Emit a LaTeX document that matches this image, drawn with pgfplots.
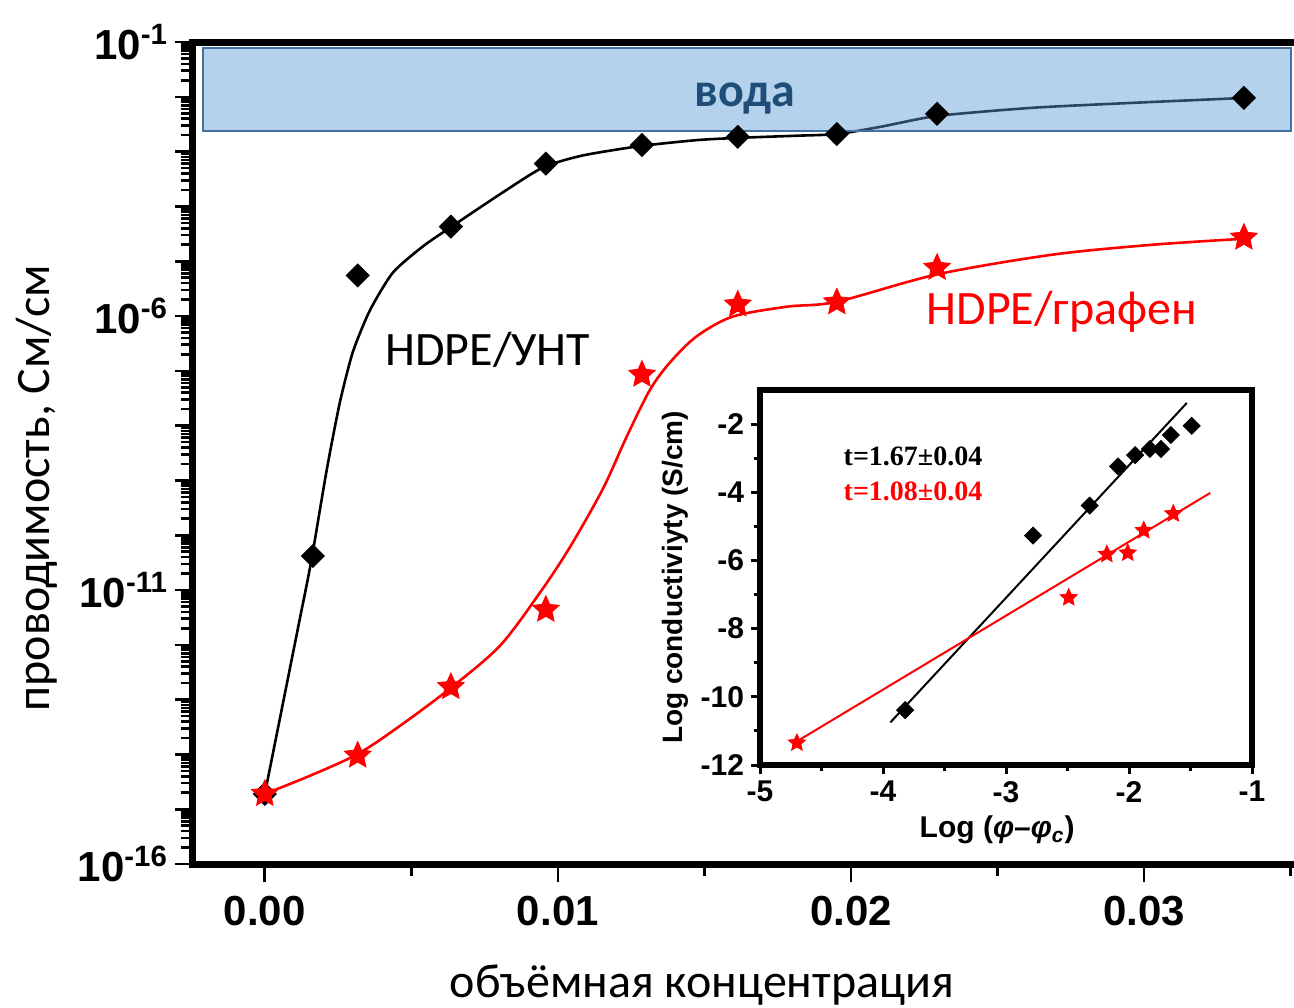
\documentclass[border=0pt]{standalone}
\usepackage{fontspec}
\setmainfont{Carlito}
\newfontfamily\arialfont{Liberation Sans}
\newfontfamily\timesfont{Liberation Serif}
\usepackage{pgfplots}
\pgfplotsset{compat=1.18}
\definecolor{boxfill}{RGB}{91,155,213}
\definecolor{boxedge}{RGB}{65,113,156}
\definecolor{waterblue}{RGB}{31,78,121}

\def\minorlist{}
\foreach \e in {-16,...,-2}{\foreach \m in {2,...,9}{\xdef\minorlist{\minorlist\ifx\minorlist\empty\else,\fi\m e\e}}}

\pgfdeclareplotmark{fstar}{%
  \pgfpathmoveto{\pgfpointpolar{90}{\pgfplotmarksize}}%
  \pgfpathlineto{\pgfpointpolar{126}{0.47\pgfplotmarksize}}%
  \pgfpathlineto{\pgfpointpolar{162}{\pgfplotmarksize}}%
  \pgfpathlineto{\pgfpointpolar{198}{0.47\pgfplotmarksize}}%
  \pgfpathlineto{\pgfpointpolar{234}{\pgfplotmarksize}}%
  \pgfpathlineto{\pgfpointpolar{270}{0.47\pgfplotmarksize}}%
  \pgfpathlineto{\pgfpointpolar{306}{\pgfplotmarksize}}%
  \pgfpathlineto{\pgfpointpolar{342}{0.47\pgfplotmarksize}}%
  \pgfpathlineto{\pgfpointpolar{18}{\pgfplotmarksize}}%
  \pgfpathlineto{\pgfpointpolar{54}{0.47\pgfplotmarksize}}%
  \pgfpathclose\pgfusepathqfillstroke}

\begin{document}
\begin{tikzpicture}
\begin{axis}[
  name=main, at={(0,0)}, anchor=south west,
  scale only axis, width=548.75pt, height=411pt,
  xmin=-0.00245, xmax=0.035,
  ymode=log, ymin=1e-16, ymax=1e-1,
  axis line style={draw=none},
  tick align=outside,
  xtick={0,0.01,0.02,0.03}, xticklabels={0.00,0.01,0.02,0.03},
  minor xtick={0.005,0.015,0.025,0.035},
  xtick pos=left, ytick pos=left,
  ytick={1e-16,1e-15,1e-14,1e-13,1e-12,1e-11,1e-10,1e-9,1e-8,1e-7,1e-6,1e-5,1e-4,1e-3,1e-2,1e-1},
  yticklabels={10\textsuperscript{-16},{},{},{},{},10\textsuperscript{-11},{},{},{},{},10\textsuperscript{-6},{},{},{},{},10\textsuperscript{-1}},
  minor ytick/.expand once=\minorlist,
  major tick length=9pt, minor tick length=6pt,
  major tick style={line width=1.3pt, black},
  minor tick style={line width=1.3pt, black},
  tick label style={font=\arialfont\bfseries\fontsize{21}{24}\selectfont},
  xticklabel style={yshift=-3.5pt},
  scaled x ticks=false,
  clip=false,
]
% HDPE/CNT fit curve
\addplot[black, line width=1.3pt] coordinates {(0,1.905e-15)(0.001468,1.585e-11)};
\addplot[black, line width=1.3pt, smooth, tension=0.4] coordinates {
(0.001468,1.585e-11)(0.001638,4.90e-11)(0.002116,1.585e-9)(0.00256,2.63e-8)(0.003003,2.19e-7)
(0.003584,1.26e-6)(0.004369,6.17e-6)(0.005392,1.86e-5)(0.006314,4.07e-5)(0.00802,1.66e-4)
(0.009488,5.13e-4)(0.01085,8.51e-4)(0.0128,1.26e-3)(0.01474,1.62e-3)(0.01614,1.78e-3)
(0.01816,1.95e-3)(0.01952,2.09e-3)(0.02099,2.82e-3)(0.02294,4.47e-3)(0.02621,6.31e-3)
(0.02962,7.76e-3)(0.03345,9.55e-3)};
% HDPE/graphene fit curve
\addplot[red, line width=1.3pt, smooth, tension=0.5] coordinates {
(0,1.905e-15)(0.001536,4.07e-15)(0.003174,1.02e-14)(0.004608,3.31e-14)(0.006314,1.585e-13)
(0.00802,9.55e-13)(0.009386,8.91e-12)(0.01041,6.03e-11)(0.01154,7.08e-10)
(0.01235,6.31e-9)(0.01314,4.47e-8)(0.01382,1.41e-7)(0.01474,4.27e-7)(0.01597,9.77e-7)
(0.01782,1.48e-6)(0.01952,1.82e-6)(0.02294,5.75e-6)(0.02689,1.32e-5)(0.03031,2.00e-5)
(0.03341,2.57e-5)};
% markers
\addplot[only marks, mark=square*, mark size=4.07pt, mark options={rotate=45, fill=black, draw=black}] coordinates {
(0,1.905e-15)(0.00164,4.17e-11)(0.00317,5.50e-6)(0.00635,4.27e-5)(0.00959,6.03e-4)
(0.01287,1.32e-3)(0.01614,1.86e-3)(0.01952,2.09e-3)(0.02294,4.90e-3)(0.03341,9.55e-3)};
\addplot[only marks, mark=fstar, mark size=7pt, mark options={fill=red, draw=red}] coordinates {
(0,1.905e-15)(0.00317,9.55e-15)(0.00635,1.70e-13)(0.00959,4.37e-12)(0.01287,8.51e-8)
(0.01614,1.62e-6)(0.01952,1.78e-6)(0.02294,7.59e-6)(0.03341,2.69e-5)};
% water band
\draw[boxedge, line width=1pt, fill=boxfill, fill opacity=0.45] (axis cs:-0.002116,7.78e-2) rectangle (axis cs:0.035,2.38e-3);
\node[font=\bfseries\fontsize{24}{28}\selectfont, text=waterblue] at (axis cs:0.01638,9.5e-3) {вода};
% frame
\draw[line width=3.5pt, line join=miter] (rel axis cs:1.01,1) -- (rel axis cs:0,1) -- (rel axis cs:0,0) -- (rel axis cs:1.01,0);
% labels
\node[font=\fontsize{24}{28}\selectfont] at (axis cs:0.00761,2.4e-7) {HDPE/УНТ};
\node[text=red, font=\fontsize{24}{28}\selectfont] at (axis cs:0.0272,1.17e-6) {HDPE/графен};
\node[rotate=90, font=\fontsize{24}{28}\selectfont] at ([xshift=-78pt]rel axis cs:0,0.4574) {проводимость, См/см};
\node[font=\fontsize{24}{28}\selectfont] at ([yshift=-60.5pt]rel axis cs:0.4638,0) {объёмная концентрация};
\end{axis}

\begin{axis}[
  at={(283.5pt,49.5pt)}, anchor=south west,
  scale only axis, width=246pt, height=187.5pt,
  xmin=-5, xmax=-1, ymin=-12, ymax=-1,
  axis background/.style={fill=white},
  axis line style={line width=3pt},
  tick align=outside,
  xtick={-5,-4,-3,-2,-1}, xticklabels={-5,-4,-3,-2,-1},
  ytick={-12,-10,-8,-6,-4,-2}, yticklabels={-12,-10,-8,-6,-4,-2},
  minor xtick={-4.5,-3.5,-2.5,-1.5},
  minor ytick={-11,-9,-7,-5,-3},
  xtick pos=left, ytick pos=left,
  major tick length=4.5pt, minor tick length=3pt,
  major tick style={line width=1.5pt, black},
  minor tick style={line width=1.5pt, black},
  tick label style={font=\arialfont\bfseries\fontsize{15}{18}\selectfont},
  clip=false,
]
\addplot[black, line width=1pt] coordinates {(-3.94,-10.75)(-1.53,-1.38)};
\addplot[red, line width=1pt] coordinates {(-4.72,-11.35)(-1.34,-4.02)};
\addplot[only marks, mark=square*, mark size=3pt, mark options={rotate=45, fill=black, draw=black}] coordinates {
(-3.82,-10.39)(-2.78,-5.27)(-2.32,-4.39)(-2.09,-3.24)(-1.95,-2.91)(-1.83,-2.73)(-1.74,-2.73)(-1.66,-2.32)(-1.49,-2.05)};
\addplot[only marks, mark=fstar, mark size=4.5pt, mark options={fill=red, draw=red}] coordinates {
(-4.70,-11.35)(-2.49,-7.09)(-2.18,-5.82)(-2.01,-5.78)(-1.88,-5.12)(-1.64,-4.63)};
\node[font=\timesfont\bfseries\fontsize{14}{16}\selectfont] at (axis cs:-3.756,-2.96) {t=1.67±0.04};
\node[text=red, font=\timesfont\bfseries\fontsize{14}{16}\selectfont] at (axis cs:-3.756,-3.96) {t=1.08±0.04};
\node[rotate=90, font=\arialfont\bfseries\fontsize{14}{16}\selectfont] at ([xshift=-42.5pt]rel axis cs:0,0.5) {Log conductiviyty (S/cm)};
\node[font=\arialfont\bfseries\fontsize{15}{18}\selectfont] at ([yshift=-32.5pt]rel axis cs:0.482,0) {Log (\textit{φ–φ\textsubscript{c}})};
\end{axis}
\pgfresetboundingbox
\path[use as bounding box] (-96.5pt,-71.5pt) rectangle (550.5pt,432pt);
\end{tikzpicture}
\end{document}
